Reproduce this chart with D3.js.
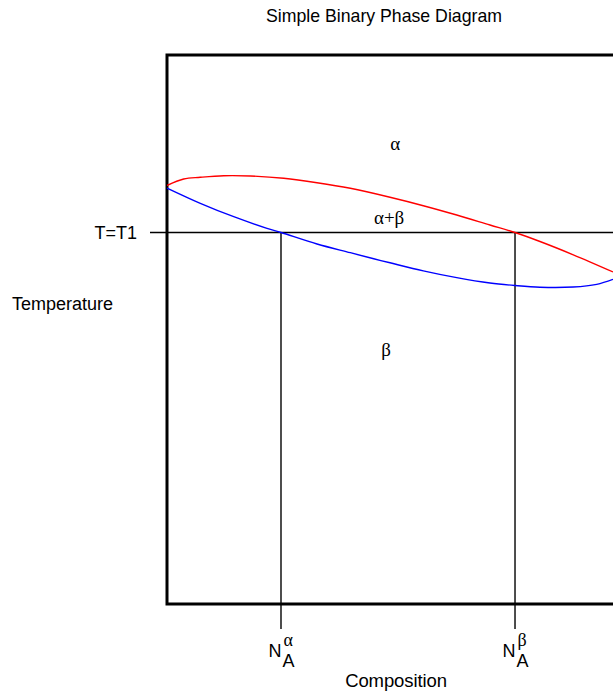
<!DOCTYPE html>
<html>
<head>
<meta charset="utf-8">
<script src="https://cdn.jsdelivr.net/npm/d3@7"></script>
<style>
  html, body { margin: 0; padding: 0; background: #fff; }
  svg { display: block; }
  .sans { font-family: "Liberation Sans", Arial, sans-serif; fill: #000; }
  .serif { font-family: "Liberation Serif", "DejaVu Serif", serif; fill: #000; }
</style>
</head>
<body>
<svg id="chart" width="613" height="695"></svg>
<script>
// ---- Data (composition %, temperature in relative units) ----
const title = "Simple Binary Phase Diagram";
const xLabel = "Composition";
const yLabel = "Temperature";
const tLabel = "T=T1";

// Upper boundary (red)
const redComp = [0, 3.74, 7.47, 12.71, 18.68, 26.17, 33.63, 41.10, 50.0, 57.47, 64.96, 72.42, 78.03, 83.63, 91.10, 100];
const redTemp = [76.23, 77.41, 77.72, 78.01, 77.96, 77.54, 76.74, 75.72, 74.09, 72.55, 70.85, 69.03, 67.67, 66.03, 63.61, 60.49];

// Lower boundary (blue)
const blueComp = [0, 7.47, 14.96, 22.42, 25.56, 33.63, 41.10, 46.35, 50.0, 57.47, 64.96, 72.42, 78.03, 83.63, 91.10, 96.35, 100];
const blueTemp = [75.77, 72.99, 70.55, 68.43, 67.67, 65.57, 63.99, 62.88, 62.15, 60.69, 59.45, 58.47, 58.01, 57.70, 57.74, 58.23, 59.14];

const T1 = 67.67;
const NAalpha = 25.56;
const NAbeta = 78.03;

// Region labels: [text, composition, temperature]
const regionText = ["α", "α+β", "β"];
const regionComp = [51.2, 49.8, 49.1];
const regionTemp = [82.7, 69.2, 45.2];

// ---- Scales ----
const svg = d3.select("#chart");
const x = d3.scaleLinear().domain([0, 100]).range([167, 613]);
const y = d3.scaleLinear().domain([0, 100]).range([604, 55]);

// Box (right side extends beyond the visible area)
svg.append("path")
  .attr("d", `M${x(120)},${y(100)} H${x(0)} V${y(0)} H${x(120)}`)
  .attr("fill", "none").attr("stroke", "#000").attr("stroke-width", 3);

// T = T1 isotherm
svg.append("line")
  .attr("x1", x(0) - 17).attr("x2", x(100))
  .attr("y1", y(T1)).attr("y2", y(T1))
  .attr("stroke", "#000").attr("stroke-width", 1.4);

// Tie-line verticals
[NAalpha, NAbeta].forEach(c => {
  svg.append("line")
    .attr("x1", x(c)).attr("x2", x(c))
    .attr("y1", y(T1)).attr("y2", y(0) + 25)
    .attr("stroke", "#000").attr("stroke-width", 1.4);
});

// Curves
const line = d3.line().x(d => x(d[0])).y(d => y(d[1])).curve(d3.curveCatmullRom.alpha(0.5));
svg.append("path")
  .attr("d", line(redComp.map((c, i) => [c, redTemp[i]])))
  .attr("fill", "none").attr("stroke", "#ff0000").attr("stroke-width", 1.4);
svg.append("path")
  .attr("d", line(blueComp.map((c, i) => [c, blueTemp[i]])))
  .attr("fill", "none").attr("stroke", "#0000ff").attr("stroke-width", 1.4);

// Region labels
regionText.forEach((t, i) => {
  svg.append("text").attr("class", "serif")
    .attr("x", x(regionComp[i])).attr("y", y(regionTemp[i]))
    .attr("text-anchor", "middle").attr("font-size", 19)
    .text(t);
});

// Title
svg.append("text").attr("class", "sans")
  .attr("x", 384).attr("y", 22).attr("text-anchor", "middle")
  .attr("font-size", 17.7).text(title);

// Axis labels
svg.append("text").attr("class", "sans")
  .attr("x", 396).attr("y", 687).attr("text-anchor", "middle")
  .attr("font-size", 18.5).attr("letter-spacing", -0.1).text(xLabel);
svg.append("text").attr("class", "sans")
  .attr("x", 12).attr("y", 310)
  .attr("font-size", 18).text(yLabel);
svg.append("text").attr("class", "sans")
  .attr("x", 137).attr("y", 239).attr("text-anchor", "end")
  .attr("font-size", 18).text(tLabel);

// N_A labels with superscripts
[[NAalpha, "α"], [NAbeta, "β"]].forEach(([c, g]) => {
  const cx = x(c);
  const grp = svg.append("g");
  grp.append("text").attr("class", "sans")
    .attr("x", cx - 12.5).attr("y", 657).attr("font-size", 18).text("N");
  grp.append("text").attr("class", "sans")
    .attr("x", cx + 1.5).attr("y", 667).attr("font-size", 18).text("A");
  grp.append("text").attr("class", "serif")
    .attr("x", cx + 2.5).attr("y", 646).attr("font-size", 18).text(g);
});
</script>
</body>
</html>
